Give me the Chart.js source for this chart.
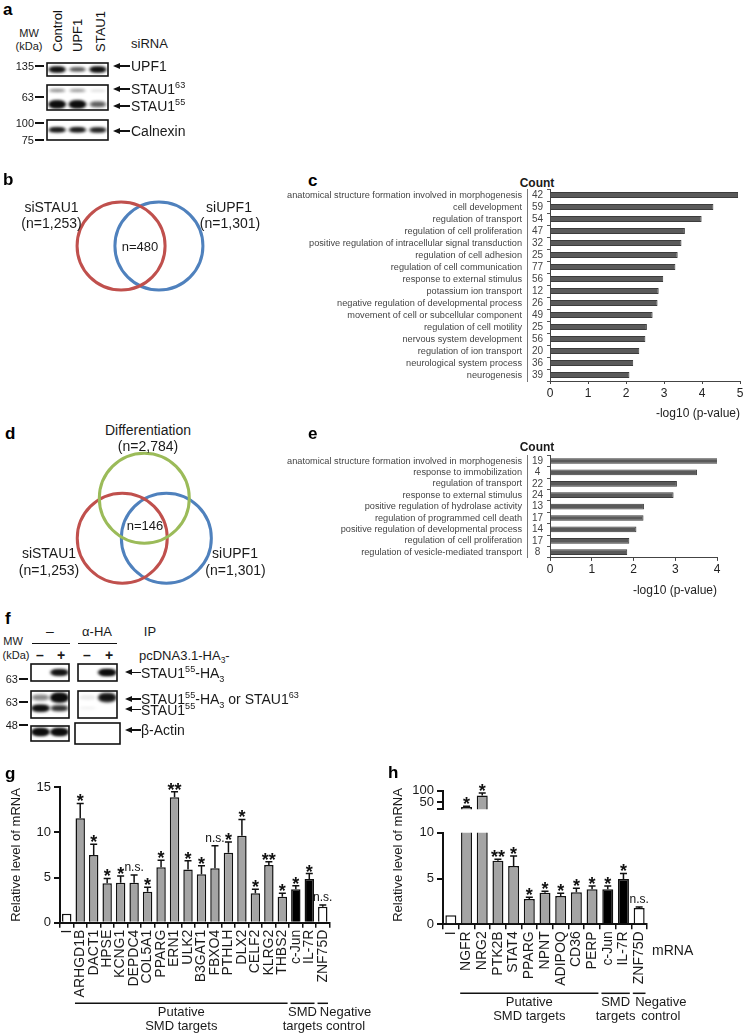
<!DOCTYPE html>
<html>
<head>
<meta charset="utf-8">
<title>STAU1 / UPF1 figure</title>
<script src="https://cdn.jsdelivr.net/npm/chart.js@4.4.1/dist/chart.umd.min.js"></script>
<style>
  body { margin: 0; background: #fff; }
  #fig { position: relative; width: 747px; height: 1035px; overflow: hidden; font-family: "Liberation Sans", Arial, sans-serif; color: #111; }
  #fig canvas { position: absolute; }
  .t { position: absolute; white-space: nowrap; line-height: 1; }
  .t sup, .t sub { font-size: 65%; line-height: 0; }
  .ln { position: absolute; background: #111; }
</style>
</head>
<body>
<div id="fig"></div>
<script>
// ---------- data ----------
// a: knockdown western blot (band intensity per lane, 0..1)
const laneA = ["Control", "UPF1", "STAU1"];
const bandUPF1 = [0.95, 0.5, 0.95];
const bandSTAU1p63 = [0.4, 0.35, 0.1];
const bandSTAU1p55 = [1.0, 1.0, 0.45];
const bandCalnexin = [0.85, 0.85, 0.8];

// b, d: Venn diagrams
const vennBNames = ["siSTAU1", "siUPF1"];
const vennBCounts = [1253, 1301];
const vennBShared = 480;
const vennDNames = ["Differentiation", "siSTAU1", "siUPF1"];
const vennDCounts = [2784, 1253, 1301];
const vennDShared = 146;

// c: GO terms, shared siSTAU1/siUPF1 set
const cTerms = [
  "anatomical structure formation involved in morphogenesis", "cell development",
  "regulation of transport", "regulation of cell proliferation",
  "positive regulation of intracellular signal transduction", "regulation of cell adhesion",
  "regulation of cell communication", "response to external stimulus",
  "potassium ion transport", "negative regulation of developmental process",
  "movement of cell or subcellular component", "regulation of cell motility",
  "nervous system development", "regulation of ion transport",
  "neurological system process", "neurogenesis"
];
const cCounts = [42, 59, 54, 47, 32, 25, 77, 56, 12, 26, 49, 25, 56, 20, 36, 39];
const cLogP = [4.95, 4.3, 3.99, 3.55, 3.46, 3.36, 3.3, 2.98, 2.86, 2.83, 2.7, 2.55, 2.51, 2.35, 2.19, 2.09];

// e: GO terms, differentiation overlap
const eTerms = [
  "anatomical structure formation involved in morphogenesis", "response to immobilization",
  "regulation of transport", "response to external stimulus",
  "positive regulation of hydrolase activity", "regulation of programmed cell death",
  "positive regulation of developmental process", "regulation of cell proliferation",
  "regulation of vesicle-mediated transport"
];
const eCounts = [19, 4, 22, 24, 13, 17, 14, 17, 8];
const eLogP = [4.05, 3.52, 3.04, 2.96, 2.25, 2.24, 2.07, 1.9, 1.85];

// f: HA IP blot (lanes: input -, input +, IP -, IP +)
const fPlasmid = ["–", "+", "–", "+"];
const fHA = [0, 0.9, 0, 1.0];
const fUpper = [0.3, 1.0, 0.05, 0.85];
const fLower = [0.95, 0.65, 0.03, 0];
const fActin = [1.0, 1.0, 0, 0];

// g: relative mRNA levels
const gGenes = ["I", "ARHGD1B", "DACT1", "HPSE", "KCNG1", "DEPDC4", "COL5A1", "PPARG", "ERN1", "ULK2",
  "B3GAT1", "FBXO4", "PTHLH", "DLX2", "CELF2", "KLRG2", "THBS2", "c-Jun", "IL-7R", "ZNF75D"];
const gGroup = ["ctrl", "put", "put", "put", "put", "put", "put", "put", "put", "put",
  "put", "put", "put", "put", "put", "put", "put", "smd", "smd", "neg"];
const gValues = [1.0, 11.56, 7.5, 4.36, 4.43, 4.43, 3.43, 6.13, 13.9, 5.9, 5.36, 6.02, 7.75, 9.64, 3.25, 6.4, 2.88, 3.7, 4.84, 1.77];
const gErrors = [0, 1.65, 1.2, 0.55, 0.75, 0.85, 0.5, 0.8, 0.6, 0.95, 0.95, 2.5, 1.2, 1.8, 0.45, 0.35, 0.37, 0.4, 0.6, 0.18];
const gSig = ["", "*", "*", "*", "*", "n.s.", "*", "*", "**", "*", "*", "n.s.", "*", "*", "*", "**", "*", "*", "*", "n.s."];

// h: relative mRNA levels (broken axis)
const hGenes = ["I", "NGFR", "NRG2", "PTK2B", "STAT4", "PPARG", "NPNT", "ADIPOQ", "CD36", "PERP", "c-Jun", "IL-7R", "ZNF75D"];
const hGroup = ["ctrl", "put", "put", "put", "put", "put", "put", "put", "put", "put", "smd", "smd", "neg"];
const hValues = [1.0, 30, 80, 6.95, 6.36, 2.76, 3.45, 3.09, 3.49, 3.82, 3.82, 4.95, 1.78];
const hErrors = [0, 3, 10, 0.15, 1.1, 0.2, 0.15, 0.3, 0.45, 0.35, 0.36, 0.6, 0.12];
const hSig = ["", "*", "*", "**", "*", "*", "*", "*", "*", "*", "*", "*", "n.s."];

// ---------- helpers ----------
const FONT = '"Liberation Sans", Arial, sans-serif';
Chart.defaults.font.family = FONT;
Chart.defaults.color = "#222";
Chart.defaults.animation = false;
Chart.defaults.events = [];
Chart.defaults.plugins.legend.display = false;
Chart.defaults.plugins.tooltip.enabled = false;

const fig = document.getElementById("fig");

function cv(x, y, w, h) {
  const c = document.createElement("canvas");
  c.width = Math.round(w); c.height = Math.round(h);
  c.style.left = Math.round(x) + "px"; c.style.top = Math.round(y) + "px";
  c.style.width = Math.round(w) + "px"; c.style.height = Math.round(h) + "px";
  fig.appendChild(c);
  return c;
}

// text: y is vertical centre; align l / c / r
function txt(x, y, html, o = {}) {
  const d = document.createElement("div");
  d.className = "t";
  d.innerHTML = html;
  d.style.left = x + "px";
  d.style.top = y + "px";
  d.style.fontSize = (o.size || 13) + "px";
  if (o.bold) d.style.fontWeight = "bold";
  d.style.color = o.color || "#1a1a1a";
  const ax = o.align === "r" ? "-100%" : o.align === "c" ? "-50%" : "0";
  d.style.transform = `translate(${ax},-50%)`;
  fig.appendChild(d);
  return d;
}

// vertical text reading bottom-to-top, starting at (x, yBottom)
function vtxt(x, yBottom, html, size) {
  const d = document.createElement("div");
  d.className = "t";
  d.innerHTML = html;
  d.style.left = x + "px";
  d.style.top = yBottom + "px";
  d.style.fontSize = size + "px";
  d.style.transformOrigin = "0 0";
  d.style.transform = "rotate(-90deg) translate(0,-50%)";
  fig.appendChild(d);
}

function line(x, y, w, h) {
  const d = document.createElement("div");
  d.className = "ln";
  d.style.left = x + "px"; d.style.top = y + "px";
  d.style.width = w + "px"; d.style.height = h + "px";
  fig.appendChild(d);
}

function arrow(xHead, y, len) {
  line(xHead + 5, y - 0.75, len - 5, 1.5);
  const t = document.createElement("div");
  t.style.cssText = `position:absolute;left:${xHead}px;top:${y - 3.5}px;width:0;height:0;` +
    "border-top:3.5px solid transparent;border-bottom:3.5px solid transparent;border-right:7px solid #111;";
  fig.appendChild(t);
}

function mw(xBox, y, label) {
  txt(xBox - 10, y, label, { size: 11, align: "r" });
  line(xBox - 9, y - 0.6, 9, 1.2);
}

function panel(x, y, letter) {
  txt(x, y, letter, { size: 17, bold: true, color: "#000" });
}

// ---------- western blots ----------
const frame = {
  id: "frame",
  afterDraw(chart) {
    const a = chart.chartArea, c = chart.ctx;
    c.save();
    c.lineWidth = 1.6;
    c.strokeStyle = "#111";
    c.strokeRect(a.left, a.top, a.right - a.left, a.bottom - a.top);
    c.restore();
  }
};

function band(w, h, v) {
  const c = document.createElement("canvas");
  c.width = Math.ceil(w + 10); c.height = Math.ceil(h + 10);
  const g = c.getContext("2d");
  g.filter = "blur(1.4px)";
  g.fillStyle = `rgba(12,12,12,${Math.min(1, v)})`;
  g.beginPath();
  g.ellipse(c.width / 2, c.height / 2, w / 2, h / 2, 0, 0, Math.PI * 2);
  g.fill();
  g.beginPath();
  g.roundRect(5 + w * 0.12, 5 + h * 0.15, w * 0.76, h * 0.7, h * 0.35);
  g.fill();
  return c;
}

// box = [x1, y1, x2, y2]; rows = [{vals, h}], row k plotted at y = k
function blot(box, rows, lo, hi, bandW) {
  const pad = 2;
  const canvas = cv(box[0] - pad, box[1] - pad, box[2] - box[0] + 2 * pad, box[3] - box[1] + 2 * pad);
  const n = rows[0].vals.length;
  const datasets = rows.map((r, k) => ({
    data: r.vals.map((v, i) => ({ x: i, y: k, v })).filter(p => p.v > 0),
    pointRadius: 3,
    pointStyle: c => (c.raw ? band(bandW, r.h * (0.5 + 0.5 * Math.min(1, c.raw.v)), c.raw.v) : "circle")
  }));
  new Chart(canvas, {
    type: "scatter",
    data: { datasets },
    options: {
      responsive: false, devicePixelRatio: 1,
      layout: { padding: pad },
      scales: {
        x: { display: false, min: -0.5, max: n - 0.5 },
        y: { display: false, min: lo, max: hi, reverse: true }
      }
    },
    plugins: [frame]
  });
}

// ---------- Venn ----------
function venn(rect, center, unit, pos, colors) {
  const [L, T, W, H] = rect;
  const canvas = cv(L, T, W, H);
  new Chart(canvas, {
    type: "scatter",
    data: {
      datasets: pos.map((p, i) => ({
        data: [{ x: p[0], y: p[1] }],
        pointBorderColor: colors[i],
        pointBackgroundColor: "rgba(0,0,0,0)",
        pointBorderWidth: 3,
        pointRadius: c => c.chart.scales.x.getPixelForValue(1) - c.chart.scales.x.getPixelForValue(0)
      }))
    },
    options: {
      responsive: false, devicePixelRatio: 1,
      layout: { padding: 0 },
      scales: {
        x: { display: false, min: (L - center[0]) / unit, max: (L + W - center[0]) / unit },
        y: { display: false, min: (center[1] - T - H) / unit, max: (center[1] - T) / unit }
      }
    }
  });
}

// ---------- GO bar charts ----------
function goChart(rect, area, terms, counts, vals, xmax) {
  const [L, T, W, H] = rect;
  new Chart(cv(L, T, W, H), {
    type: "bar",
    data: {
      labels: terms,
      datasets: [{
        data: vals, backgroundColor: "#5a5a5a", borderColor: "#3c3c3c", borderWidth: 1,
        barPercentage: 0.5, categoryPercentage: 1
      }]
    },
    options: {
      indexAxis: "y", responsive: false, devicePixelRatio: 1,
      layout: { padding: { top: area.top - T, right: L + W - area.right, left: 0, bottom: 0 } },
      scales: {
        y: {
          type: "category", position: "left", weight: 2,
          afterFit: s => { s.width = area.termsRight - L; },
          grid: { display: false, drawTicks: false },
          border: { display: true, color: "#777", width: 1 },
          ticks: { font: { size: 9.2 }, color: "#444", padding: 5, autoSkip: false }
        },
        yc: {
          type: "category", labels: counts.map(String), position: "left", weight: 1, offset: true,
          afterFit: s => { s.width = area.left - area.termsRight; },
          grid: { display: true, drawOnChartArea: false, offset: true, tickLength: 3, color: "#555" },
          border: { display: true, color: "#444", width: 1 },
          ticks: { font: { size: 10 }, color: "#444", crossAlign: "center", padding: 4, autoSkip: false }
        },
        x: {
          type: "linear", min: 0, max: xmax,
          afterFit: s => { s.height = T + H - area.bottom; },
          ticks: { stepSize: 1, includeBounds: false, font: { size: 12 }, color: "#222", padding: 2 },
          grid: { drawOnChartArea: false, tickLength: 3, color: "#444" },
          border: { color: "#444", width: 1 },
          title: { display: true, text: "-log10 (p-value)", align: "end", font: { size: 12 }, color: "#222", padding: { top: 1, bottom: 0 } }
        }
      }
    }
  });
}

// ---------- mRNA bar charts ----------
const groupText = { put: ["Putative", "SMD targets"], smd: ["SMD", "targets"], neg: ["Negative", "control"] };
const fillFor = { ctrl: "#ffffff", put: "#a4a4a4", smd: "#000000", neg: "#ffffff" };

function runs(groups) {
  const out = [];
  groups.forEach((g, i) => {
    if (g === "ctrl") return;
    const last = out[out.length - 1];
    if (last && last.g === g && last.to === i - 1) last.to = i;
    else out.push({ g, from: i, to: i });
  });
  return out;
}

function extras(values, errors, sig, groups, lineDy) {
  return {
    id: "extras",
    afterDatasetsDraw(chart) {
      const { ctx, chartArea } = chart;
      const ys = chart.scales.y, xs = chart.scales.x;
      const meta = chart.getDatasetMeta(0);
      ctx.save();
      meta.data.forEach((bar, i) => {
        const v = values[i];
        if (v == null || v > ys.max) return;
        const x = bar.x;
        const y0 = ys.getPixelForValue(v);
        const top = ys.getPixelForValue(v + errors[i]);
        if (errors[i] > 0) {
          ctx.strokeStyle = "#111"; ctx.lineWidth = 1.5;
          ctx.beginPath();
          ctx.moveTo(x, y0); ctx.lineTo(x, top);
          ctx.moveTo(x - 3.5, top); ctx.lineTo(x + 3.5, top);
          ctx.stroke();
        }
        if (sig[i]) {
          ctx.fillStyle = "#111";
          ctx.textAlign = "center";
          if (sig[i] === "n.s.") {
            ctx.font = "12px " + FONT;
            ctx.textBaseline = "middle";
            ctx.fillText("n.s.", x, top - 7);
          } else {
            ctx.font = "bold 18px " + FONT;
            ctx.textBaseline = "alphabetic";
            ctx.fillText(sig[i], x, top + 4);
          }
        }
      });
      if (groups) {
        const half = (xs.getPixelForValue(1) - xs.getPixelForValue(0)) / 2;
        const y = chartArea.bottom + lineDy;
        ctx.strokeStyle = "#111"; ctx.lineWidth = 1.5;
        ctx.fillStyle = "#1a1a1a";
        ctx.font = "13px " + FONT;
        ctx.textBaseline = "middle";
        ctx.textAlign = "center";
        runs(groups).forEach(r => {
          const x1 = xs.getPixelForValue(r.from) - half + 1.5;
          const x2 = xs.getPixelForValue(r.to) + half - 1.5;
          ctx.beginPath(); ctx.moveTo(x1, y); ctx.lineTo(x2, y); ctx.stroke();
          const cx = r.g === "neg" ? x1 + 28 : (x1 + x2) / 2;
          groupText[r.g].forEach((t, k) => ctx.fillText(t, cx, y + 9 + k * 14));
        });
      }
      ctx.restore();
    }
  };
}

function mrnaChart(rect, area, genes, groups, values, errors, sig, yOpts, showX, clip, lineDy, yTitle) {
  const [L, T, W, H] = rect;
  new Chart(cv(L, T, W, H), {
    type: "bar",
    data: {
      labels: genes,
      datasets: [{
        data: values,
        backgroundColor: groups.map(g => fillFor[g]),
        borderColor: "#111", borderWidth: 1.5,
        barPercentage: 0.7, categoryPercentage: 1,
        clip
      }]
    },
    options: {
      responsive: false, devicePixelRatio: 1,
      layout: { padding: { top: area.top - T, right: L + W - area.right, left: 0, bottom: showX ? 0 : T + H - area.bottom } },
      scales: {
        x: {
          display: showX,
          afterFit: s => { s.height = T + H - area.bottom; },
          ticks: { minRotation: 90, maxRotation: 90, autoSkip: false, font: { size: 14 }, color: "#1a1a1a", padding: 2 },
          grid: { drawOnChartArea: false, tickLength: 5, lineWidth: 1.5, color: "#111" },
          border: { color: "#111", width: 2 }
        },
        y: Object.assign({
          afterFit: s => { s.width = area.left - L; },
          grid: { drawOnChartArea: false, tickLength: 6, lineWidth: 2, color: "#111" },
          border: { color: "#111", width: 2 },
          title: yTitle ? { display: true, text: yTitle, font: { size: 13 }, color: "#1a1a1a", padding: { top: 9, bottom: 0 } } : { display: false }
        }, yOpts)
      }
    },
    plugins: [extras(values, errors, sig, showX ? groups : null, lineDy)]
  });
}

// ================= panel a =================
panel(3, 9, "a");
txt(29, 33, "MW", { size: 11, align: "c" });
txt(29, 46, "(kDa)", { size: 11, align: "c" });
[57, 77, 100].forEach((x, i) => vtxt(x, 52, laneA[i], 13));
txt(131, 43, "siRNA", { size: 13 });
blot([44, 60, 111, 79], [{ vals: bandUPF1, h: 6 }], -1, 1, 18);
blot([44, 82, 111, 113], [{ vals: bandSTAU1p63, h: 3.5 }, { vals: bandSTAU1p55, h: 8 }], -0.41, 1.41, 18);
blot([44, 117, 111, 143], [{ vals: bandCalnexin, h: 5.5 }], -1, 1, 18);
mw(44, 66, "135"); mw(44, 97, "63"); mw(44, 123, "100"); mw(44, 140, "75");
[[66, "UPF1"], [89, "STAU1<sup>63</sup>"], [106, "STAU1<sup>55</sup>"], [131, "Calnexin"]].forEach(([y, s]) => {
  arrow(113, y, 17);
  txt(131, y, s, { size: 14 });
});

// ================= panel b =================
panel(3, 179, "b");
venn([0, 190, 240, 112], [140, 246], 44, [[-0.43, 0], [0.43, 0]], ["#c0504d", "#4f81bd"]);
txt(51.5, 207, vennBNames[0], { size: 14, align: "c" });
txt(51.5, 223, `(n=${vennBCounts[0].toLocaleString("en-US")})`, { size: 14, align: "c" });
txt(229, 207, vennBNames[1], { size: 14, align: "c" });
txt(230, 223, `(n=${vennBCounts[1].toLocaleString("en-US")})`, { size: 14, align: "c" });
txt(140, 246, `n=${vennBShared}`, { size: 13, align: "c" });

// ================= panel c =================
panel(308, 180, "c");
txt(537, 183, "Count", { size: 12, bold: true, align: "c" });
goChart([240, 175, 507, 246], { top: 189, bottom: 381, left: 550, right: 740, termsRight: 527 }, cTerms, cCounts, cLogP, 5);

// ================= panel d =================
panel(5, 433, "d");
venn([0, 445, 245, 146], [144.3, 524.7], 45, [[0, 0.59], [-0.49, -0.3], [0.49, -0.3]], ["#9bbb59", "#c0504d", "#4f81bd"]);
txt(148, 430, vennDNames[0], { size: 14, align: "c" });
txt(148, 446, `(n=${vennDCounts[0].toLocaleString("en-US")})`, { size: 14, align: "c" });
txt(49, 553, vennDNames[1], { size: 14, align: "c" });
txt(49, 570, `(n=${vennDCounts[1].toLocaleString("en-US")})`, { size: 14, align: "c" });
txt(235, 553, vennDNames[2], { size: 14, align: "c" });
txt(235.5, 570, `(n=${vennDCounts[2].toLocaleString("en-US")})`, { size: 14, align: "c" });
txt(145, 525, `n=${vennDShared}`, { size: 13, align: "c" });

// ================= panel e =================
panel(308, 433, "e");
txt(537, 447, "Count", { size: 12, bold: true, align: "c" });
goChart([240, 438, 507, 160], { top: 455.3, bottom: 557.9, left: 550, right: 717, termsRight: 527 }, eTerms, eCounts, eLogP, 4);

// ================= panel f =================
panel(5, 618, "f");
txt(13, 641, "MW", { size: 11, align: "c" });
txt(16, 655, "(kDa)", { size: 11, align: "c" });
txt(50, 631, "–", { size: 14, align: "c" });
txt(97, 631, "α-HA", { size: 13, align: "c" });
txt(150, 631, "IP", { size: 13, align: "c" });
line(32, 643, 38, 1.3);
line(78, 643, 39, 1.3);
[40, 61, 87, 109].forEach((x, i) => txt(x, 655, fPlasmid[i], { size: 14, bold: true, align: "c" }));
txt(139, 655, "pcDNA3.1-HA<sub>3</sub>-", { size: 13 });
const fLeft = [28, 72], fRight = [75, 120];
[[fLeft, 0, 2], [fRight, 2, 4]].forEach(([xr, a, b]) => {
  blot([xr[0], 661, xr[1], 684], [{ vals: fHA.slice(a, b), h: 7 }], -1, 1, 19);
  blot([xr[0], 688, xr[1], 721], [{ vals: fUpper.slice(a, b), h: 10 }, { vals: fLower.slice(a, b), h: 7 }], -0.62, 1.92, 19);
  blot([xr[0], 722.7, xr[1], 743.3], [{ vals: fActin.slice(a, b), h: 8 }], -0.8, 1.2, 19);
});
mw(28, 679, "63"); mw(28, 702, "63"); mw(28, 725, "48");
[[672.7, "STAU1<sup>55</sup>-HA<sub>3</sub>"], [699, "STAU1<sup>55</sup>-HA<sub>3</sub> or STAU1<sup>63</sup>"],
 [709.5, "STAU1<sup>55</sup>"], [730, "β-Actin"]].forEach(([y, s]) => {
  arrow(125, y, 16);
  txt(141, y, s, { size: 14 });
});

// ================= panel g =================
panel(5, 773, "g");
mrnaChart([0, 775, 380, 260], { top: 787.3, bottom: 922.7, left: 60, right: 329.5 },
  gGenes, gGroup, gValues, gErrors, gSig,
  { min: 0, max: 15, ticks: { stepSize: 5, font: { size: 13 }, color: "#1a1a1a", padding: 3 } },
  true, false, 80.6, "Relative level of mRNA");

// ================= panel h =================
panel(388, 772, "h");
const hTitle = txt(397, 855, "Relative level of mRNA", { size: 13, align: "c" });
hTitle.style.transform = "translate(-50%,-50%) rotate(-90deg)";
// upper segment of the broken axis
mrnaChart([380, 780, 367, 40], { top: 790, bottom: 815, left: 443, right: 647 },
  hGenes, hGroup, hValues.map(v => (v > 10 ? v : null)), hErrors, hSig,
  {
    min: 20, max: 100,
    afterBuildTicks: s => { s.ticks = [{ value: 20 }, { value: 50 }, { value: 100 }]; },
    ticks: { autoSkip: false, font: { size: 13 }, color: "#1a1a1a", padding: 3, callback: v => (v === 20 ? "" : v) }
  },
  false, { top: false, left: false, right: false, bottom: 0 }, 0, null);
// lower segment
mrnaChart([380, 820, 367, 215], { top: 832.7, bottom: 924.3, left: 443, right: 647 },
  hGenes, hGroup, hValues, hErrors, hSig,
  { min: 0, max: 10, ticks: { stepSize: 5, font: { size: 13 }, color: "#1a1a1a", padding: 3 } },
  true, { top: 0, left: false, right: false, bottom: false }, 69, null);
txt(652, 950, "mRNA", { size: 14 });
</script>
</body>
</html>
